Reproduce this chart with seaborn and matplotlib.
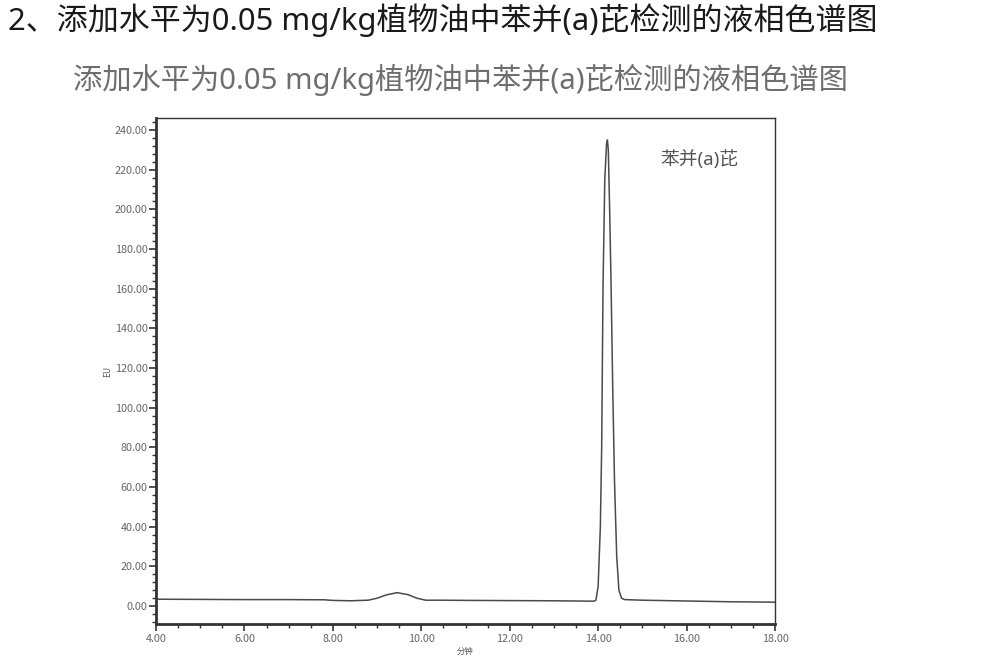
import pandas as pd
import matplotlib.pyplot as plt
import seaborn as sns
from matplotlib.ticker import MultipleLocator, FormatStrFormatter

# Chromatogram trace (time in min, signal in EU)
minutes = [4.00, 5.00, 6.00, 7.00, 7.80, 8.00, 8.40, 8.80, 9.00, 9.20, 9.45,
           9.70, 9.90, 10.10, 10.50, 11.00, 12.00, 13.00, 13.90, 13.95, 14.00,
           14.05, 14.08, 14.11, 14.15, 14.19, 14.21, 14.23, 14.26, 14.29, 14.33,
           14.37, 14.42, 14.47, 14.53, 14.60, 15.00, 16.00, 17.00, 18.00]
signal = [3.5, 3.4, 3.3, 3.3, 3.2, 2.9, 2.7, 3.0, 4.0, 5.6, 6.8,
          5.8, 4.0, 3.0, 3.0, 2.9, 2.8, 2.7, 2.5, 3.0, 10.0,
          40.0, 80.0, 160.0, 215.0, 233.0, 235.0, 230.0, 200.0, 165.0, 110.0,
          63.0, 25.0, 8.0, 4.0, 3.3, 3.0, 2.6, 2.2, 2.0]

heading = "2、添加水平为0.05 mg/kg植物油中苯并(a)芘检测的液相色谱图"
chart_title = "添加水平为0.05 mg/kg植物油中苯并(a)芘检测的液相色谱图"
peak_name = "苯并(a)芘"

df = pd.DataFrame({"minutes": minutes, "signal": signal})

sns.set_theme(style="ticks")
plt.rcParams["font.family"] = ["Noto Sans CJK SC", "DejaVu Sans"]
wide = ["Noto Sans", "Noto Sans CJK SC"]

fig = plt.figure(figsize=(9.81, 6.57), dpi=100)
ax = fig.add_axes([156 / 981, 1 - 624 / 657, (775 - 156) / 981, (624 - 118.5) / 657])

sns.lineplot(data=df, x="minutes", y="signal", ax=ax, color="#4a4a4a", linewidth=1.1)

ax.set_xlim(4, 18)
ax.set_ylim(-9, 245.8)
ax.xaxis.set_major_locator(MultipleLocator(2))
ax.xaxis.set_minor_locator(MultipleLocator(0.5))
ax.yaxis.set_major_locator(MultipleLocator(20))
ax.yaxis.set_minor_locator(MultipleLocator(4))
ax.xaxis.set_major_formatter(FormatStrFormatter("%.2f"))
ax.yaxis.set_major_formatter(FormatStrFormatter("%.2f"))
ax.tick_params(which="major", direction="out", length=5, width=1.2, colors="#333333",
               labelsize=7.8, labelcolor="#666666", pad=1)
ax.tick_params(which="minor", direction="out", length=3, width=1.0, colors="#333333")
ax.tick_params(axis="x", pad=2)

for side in ["left", "bottom"]:
    ax.spines[side].set_linewidth(2.0)
    ax.spines[side].set_color("#333333")
for side in ["top", "right"]:
    ax.spines[side].set_visible(True)
    ax.spines[side].set_linewidth(1.0)
    ax.spines[side].set_color("#333333")

ax.set_xlabel("分钟", fontsize=6, color="#555555", labelpad=2)
ax.set_ylabel("EU", fontsize=6, color="#555555", labelpad=2)

ax.text(15.4, 225, peak_name, fontsize=13.5, color="#555555", va="center", ha="left", family=wide)

fig.text(8 / 981, 1 - 20 / 657, heading, fontsize=22.3, color="#1a1a1a",
         va="center", ha="left", family=wide)
fig.text(73 / 981, 1 - 80 / 657, chart_title, fontsize=21.1, color="#6e6e6e",
         va="center", ha="left", family=wide)

fig.savefig("out.png", dpi=100, facecolor="white")
plt.close()
